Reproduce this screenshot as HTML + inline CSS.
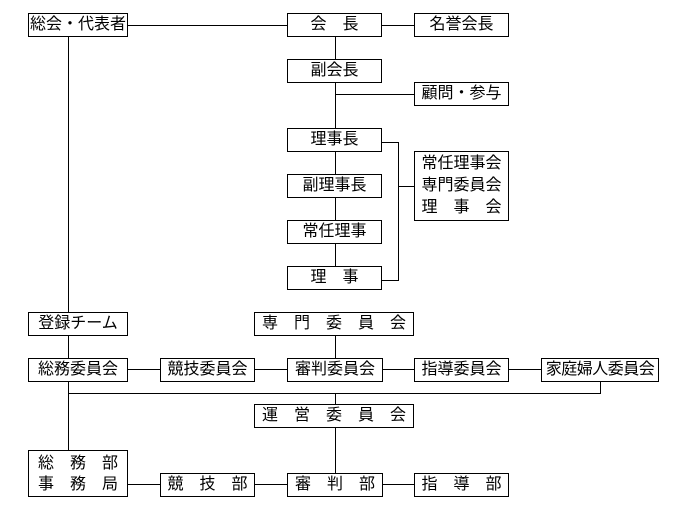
<!DOCTYPE html>
<html><head><meta charset="utf-8"><style>
body{margin:0;background:#fff;width:682px;height:519px;position:relative;overflow:hidden;font-family:"Liberation Sans","Noto Sans CJK JP",sans-serif;font-size:16px;color:#000}
.b{position:absolute;border:1px solid #000;box-sizing:border-box;background:#fff;display:flex;align-items:center;justify-content:center;white-space:pre;line-height:20px;text-align:center}
svg{position:absolute;left:0;top:0}
</style></head><body>
<svg width="682" height="519" shape-rendering="crispEdges" stroke="#000" stroke-width="1" fill="none">
<path d="M127 25.5H287M381 25.5H414M335.5 36V59M335.5 82V128M335.5 94.5H414M335.5 151V174M335.5 197V220M335.5 243V266"/>
<path d="M381 142.5H398.5V280.5H381M398.5 186.5H414"/>
<path d="M68.5 36V312M68.5 335V358M68.5 381V450M68.5 393.5H600.5V381M335.5 393.5V404M335.5 335V358M335.5 427V473"/>
<path d="M127 369.5H160M254 369.5H287M382 369.5H414M508 369.5H541M127 484.5H160M254 484.5H287M382 484.5H414"/>
</svg>
<div class="b" style="left:28px;top:13px;width:100px;height:24px">総会・代表者</div>
<div class="b" style="left:287px;top:13px;width:95px;height:24px">会　長</div>
<div class="b" style="left:414px;top:13px;width:95px;height:24px">名誉会長</div>
<div class="b" style="left:287px;top:59px;width:95px;height:24px">副会長</div>
<div class="b" style="left:414px;top:82px;width:95px;height:24px">顧問・参与</div>
<div class="b" style="left:287px;top:128px;width:95px;height:24px">理事長</div>
<div class="b" style="left:287px;top:174px;width:95px;height:24px">副理事長</div>
<div class="b" style="left:287px;top:220px;width:95px;height:24px">常任理事</div>
<div class="b" style="left:287px;top:266px;width:95px;height:24px">理　事</div>
<div class="b" style="left:414px;top:151px;width:95px;height:70px;line-height:22px">常任理事会
専門委員会
理　事　会</div>
<div class="b" style="left:28px;top:312px;width:100px;height:24px">登録チーム</div>
<div class="b" style="left:254px;top:312px;width:160px;height:24px">専　門　委　員　会</div>
<div class="b" style="left:28px;top:358px;width:100px;height:24px">総務委員会</div>
<div class="b" style="left:160px;top:358px;width:95px;height:24px">競技委員会</div>
<div class="b" style="left:287px;top:358px;width:96px;height:24px">審判委員会</div>
<div class="b" style="left:414px;top:358px;width:95px;height:24px">指導委員会</div>
<div class="b" style="left:541px;top:358px;width:118px;height:24px;letter-spacing:-0.5px">家庭婦人委員会</div>
<div class="b" style="left:254px;top:404px;width:160px;height:24px">運　営　委　員　会</div>
<div class="b" style="left:28px;top:450px;width:100px;height:47px;line-height:21px">総　務　部
事　務　局</div>
<div class="b" style="left:160px;top:473px;width:95px;height:24px">競　技　部</div>
<div class="b" style="left:287px;top:473px;width:96px;height:24px">審　判　部</div>
<div class="b" style="left:414px;top:473px;width:95px;height:24px">指　導　部</div>
</body></html>
